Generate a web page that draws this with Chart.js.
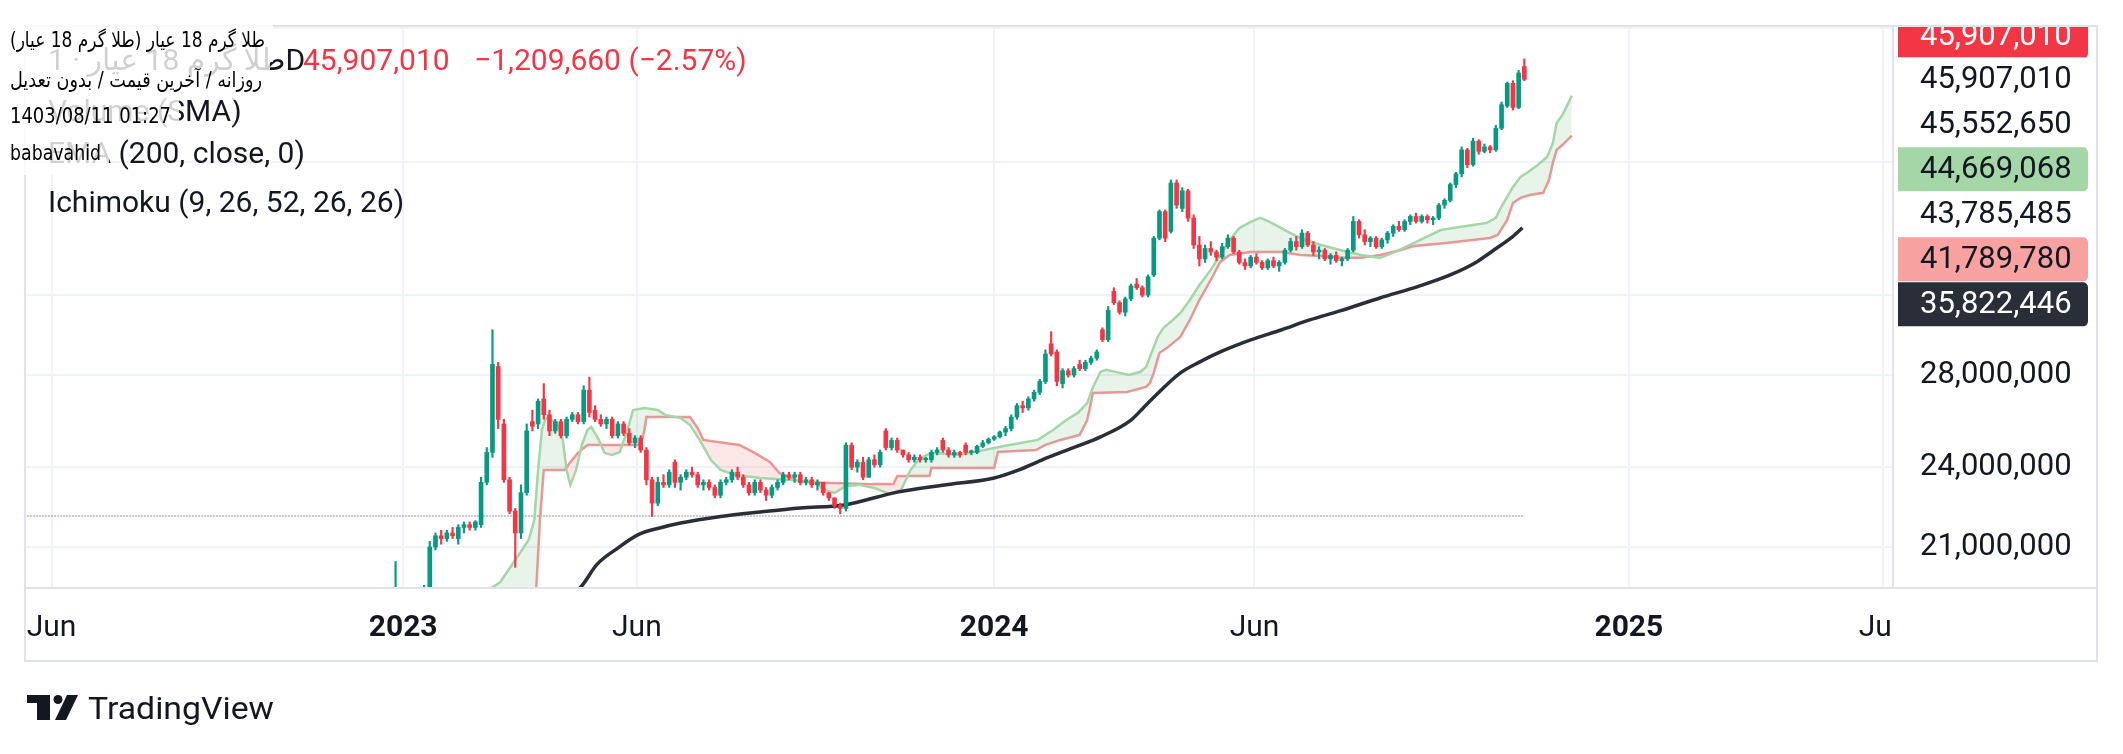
<!DOCTYPE html>
<html>
<head>
<meta charset="utf-8">
<script src="https://cdn.jsdelivr.net/npm/chart.js@4.4.1/dist/chart.umd.min.js"></script>
<style>
  html, body { margin: 0; padding: 0; background: #fff; }
</style>
</head>
<body>
<canvas id="myChart" width="2123" height="754"></canvas>
<script>
'use strict';

// time axis (bar index of each label)
const tickBars = [14, 199, 322, 510, 647, 844, 978];
const tickLabels = ['Jun', '2023', 'Jun', '2024', 'Jun', '2025', 'Jun'];
// price grid (millions)
const gridValues = [21, 24, 28, 32, 40, 50];

// daily candles, one every 3 bars: open, high, low, close (millions)
const firstCandleBar = 195;
const candleStep = 3;
const candles = [
  [19.4,20.5,19.3,19.5],[19.5,19.6,19.2,19.3],[19.3,19.5,19.1,19.4],[19.4,19.5,19.2,19.3],[19.3,19.6,19.2,19.5],
  [19.5,19.7,19.4,19.6],[19.6,21.2,19.5,21.0],[21.0,21.5,20.9,21.4],[21.4,21.6,21.1,21.3],[21.3,21.6,21.2,21.5],
  [21.5,21.7,21.3,21.4],[21.3,21.8,21.1,21.7],[21.7,21.9,21.5,21.8],[21.8,21.9,21.6,21.7],[21.7,21.95,21.6,21.9],
  [21.8,23.6,21.7,23.4],[23.4,24.8,23.3,24.6],[24.6,30.2,24.4,28.5],[28.4,28.6,25.6,26.0],[25.8,26.0,23.4,23.5],
  [23.5,23.6,22.2,22.3],[22.3,22.4,20.3,21.5],[21.5,23.3,21.3,23.0],[23.0,25.8,22.9,25.5],[25.9,26.4,25.5,25.7],
  [25.8,26.9,25.6,26.8],[26.9,27.6,26.0,26.2],[26.2,26.4,25.3,25.5],[25.5,26.0,25.4,25.9],[25.9,26.0,25.2,25.3],
  [25.3,26.1,25.2,26.0],[26.0,26.3,25.9,26.2],[26.2,26.3,25.8,25.9],[25.9,27.5,25.8,27.3],[27.3,27.9,26.1,26.3],
  [26.4,26.6,25.9,26.0],[26.0,26.2,25.7,25.8],[25.8,26.1,25.6,26.0],[26.0,26.1,25.2,25.3],[25.3,25.9,25.2,25.8],
  [25.8,25.9,25.3,25.4],[25.4,25.6,24.9,25.0],[25.0,25.3,24.8,25.2],[25.2,25.3,24.6,24.7],[24.7,24.8,23.3,23.5],
  [23.5,23.6,22.1,22.6],[22.6,23.6,22.5,23.4],[23.4,23.7,23.2,23.3],[23.3,23.9,23.2,23.8],[24.2,24.3,23.2,23.4],
  [23.4,23.7,23.1,23.6],[23.6,23.9,23.5,23.8],[23.8,24.0,23.6,23.7],[23.7,23.8,23.2,23.3],[23.3,23.5,23.1,23.4],
  [23.4,23.5,23.1,23.2],[23.2,23.3,22.8,22.9],[22.9,23.5,22.8,23.4],[23.4,23.6,23.3,23.5],[23.5,23.9,23.4,23.8],
  [23.8,24.0,23.5,23.6],[23.6,23.7,23.2,23.3],[23.3,23.4,22.9,23.0],[23.0,23.5,22.9,23.4],[23.4,23.5,23.0,23.1],
  [23.1,23.2,22.7,22.9],[22.9,23.3,22.8,23.2],[23.2,23.5,23.1,23.4],[23.4,23.8,23.3,23.7],[23.7,23.8,23.5,23.6],
  [23.6,23.8,23.4,23.7],[23.7,23.8,23.3,23.4],[23.4,23.6,23.3,23.5],[23.5,23.6,23.2,23.3],[23.3,23.5,23.1,23.4],
  [23.4,23.4,22.9,23.0],[23.0,23.0,22.7,22.8],[22.8,22.8,22.4,22.5],[22.5,22.6,22.2,22.4],[22.4,25.0,22.3,24.9],
  [24.9,25.0,23.9,24.0],[24.0,24.3,23.8,24.2],[24.2,24.4,23.5,23.6],[23.6,24.4,23.6,24.3],[24.3,24.5,24.0,24.1],
  [24.1,24.7,24.0,24.6],[25.5,25.6,24.7,24.8],[24.8,25.2,24.7,25.1],[25.1,25.2,24.6,24.7],[24.7,24.7,24.4,24.5],
  [24.5,24.6,24.2,24.3],[24.3,24.5,24.2,24.4],[24.4,24.5,24.2,24.3],[24.3,24.4,24.2,24.35],[24.3,24.7,24.2,24.6],
  [24.6,24.8,24.5,24.7],[25.1,25.2,24.6,24.7],[24.7,24.8,24.4,24.5],[24.5,24.7,24.4,24.6],[24.6,24.65,24.4,24.5],
  [24.9,25.0,24.5,24.6],[24.6,24.7,24.5,24.65],[24.6,24.9,24.55,24.85],[24.85,25.1,24.8,25.0],[25.0,25.2,24.95,25.15],
  [25.15,25.3,25.1,25.25],[25.25,25.5,25.2,25.45],[25.45,25.7,25.3,25.6],[25.6,26.2,25.5,26.1],[26.1,26.7,26.0,26.6],
  [26.6,26.8,26.3,26.5],[26.5,27.0,26.4,26.9],[26.9,27.3,26.8,27.2],[27.2,27.8,27.1,27.7],[27.7,29.2,27.6,29.0],
  [29.5,30.1,28.9,29.0],[29.1,29.2,27.5,27.7],[27.6,28.3,27.4,28.2],[28.2,28.3,27.9,28.0],[28.0,28.4,27.9,28.3],
  [28.5,28.7,28.2,28.3],[28.3,28.7,28.2,28.6],[28.6,28.9,28.5,28.8],[28.8,29.2,28.7,29.1],[30.2,30.3,29.6,29.7],
  [29.7,31.4,29.6,31.2],[32.2,32.4,31.5,31.6],[31.6,31.7,31.0,31.1],[31.1,31.9,30.9,31.8],[31.8,32.6,31.7,32.5],
  [32.6,32.9,32.3,32.4],[32.4,32.5,31.9,32.0],[32.0,33.1,31.9,33.0],[33.1,35.3,33.0,35.2],[35.2,36.9,35.1,36.8],
  [36.8,36.9,35.0,35.2],[35.6,38.8,35.5,38.6],[38.6,38.8,37.0,37.2],[37.0,38.3,36.8,38.1],[38.1,38.2,36.2,36.4],
  [36.4,36.6,34.6,34.8],[34.8,35.3,33.6,34.0],[34.0,34.8,33.8,34.6],[34.6,35.0,34.2,34.4],[34.4,34.5,33.9,34.1],
  [34.1,34.9,34.0,34.7],[34.7,35.4,34.6,35.2],[35.2,35.3,34.3,34.4],[34.4,34.5,33.7,33.8],[33.8,34.0,33.4,33.6],
  [33.6,34.2,33.5,34.1],[34.1,34.3,33.7,33.8],[33.8,33.9,33.4,33.5],[33.5,34.0,33.4,33.9],[33.9,34.1,33.5,33.6],
  [33.6,33.9,33.3,33.8],[33.8,34.6,33.7,34.5],[34.5,35.2,34.4,35.0],[35.0,35.3,34.5,34.7],[34.7,35.7,34.6,35.5],
  [35.5,35.6,34.7,34.8],[34.8,35.0,34.2,34.4],[34.4,34.7,34.0,34.5],[34.5,34.6,33.9,34.0],[34.0,34.3,33.7,34.2],
  [34.2,34.4,33.8,33.9],[33.9,34.1,33.6,34.0],[34.0,34.6,33.9,34.5],[34.5,36.5,34.4,36.2],[36.2,36.3,35.2,35.4],
  [35.4,35.7,34.8,35.0],[35.0,35.3,34.7,35.2],[35.2,35.3,34.6,34.7],[34.7,35.2,34.6,35.1],[35.1,35.6,34.9,35.5],
  [35.5,36.0,35.3,35.9],[35.9,36.2,35.6,35.7],[35.7,36.3,35.6,36.2],[36.2,36.6,36.0,36.5],[36.5,36.7,36.1,36.2],
  [36.2,36.6,36.1,36.5],[36.5,36.6,36.1,36.3],[36.3,36.5,36.0,36.4],[36.4,37.3,36.3,37.2],[37.2,37.6,37.0,37.5],
  [37.5,38.6,37.4,38.5],[38.5,39.3,38.3,39.2],[39.2,41.0,39.0,40.8],[40.8,40.9,39.6,39.8],[39.8,41.6,39.7,41.4],
  [41.4,41.5,40.5,40.7],[40.7,41.2,40.6,41.0],[41.0,41.1,40.6,40.8],[40.8,42.5,40.7,42.3],[42.3,44.2,42.2,44.0],
  [43.9,45.7,43.8,45.6],[45.6,45.8,43.6,43.8],[43.8,46.6,43.7,46.4],[46.9,47.5,45.8,45.90701]
];

// EMA 200
const emaBars = [280,292,301,311,323,334,345,366,387,408,431,459,484,510,523,535,551,566,582,591,
  608,618,629,645,661,676,692,713,734,750,763,773,782,788];
const ema200 = [19.2,19.61,20.40,20.92,21.45,21.68,21.86,22.10,22.27,22.42,22.53,23.02,23.30,23.57,23.89,24.29,24.78,25.25,25.97,26.72,
  28.10,28.61,29.10,29.69,30.19,30.70,31.17,31.85,32.50,33.10,33.77,34.51,35.21,35.822446];

// Ichimoku leading span A
const spanABars = [236,244,250,258,265,268,270,272,274,277,280,283,285,287,290,293,296,298,302,305,
  309,313,317,320,326,333,337,345,350,355,361,366,374,387,403,416,421,426,432,439,
  447,455,461,466,471,477,492,510,518,533,541,548,554,559,562,566,569,576,581,587,
  590,592,596,599,604,608,613,618,624,629,634,639,645,650,655,663,671,682,692,703,
  713,721,731,745,755,769,774,776,780,783,787,791,796,801,804,806,809,814];
const spanA = [19.0,19.55,19.80,20.55,21.25,21.97,23.89,25.54,26.06,25.97,25.84,25.12,23.89,23.30,23.89,24.91,25.54,25.67,25.12,24.58,
  24.50,24.62,25.54,26.41,26.50,26.41,26.19,26.06,25.75,25.12,24.29,23.89,23.69,23.57,23.49,23.37,23.10,22.99,23.26,23.30,
  23.18,22.95,23.10,23.89,24.37,24.58,24.50,24.78,24.91,25.12,25.54,25.97,26.28,26.72,27.45,28.15,28.24,28.10,28.00,28.15,
  28.38,28.86,29.84,30.29,30.70,31.06,31.74,32.55,33.38,34.22,35.09,35.80,36.17,36.41,36.17,35.68,35.21,34.80,34.51,34.22,
  34.06,34.40,34.92,35.68,35.86,36.10,36.41,36.90,37.71,38.35,39.00,39.32,39.78,40.32,41.27,42.68,43.25,44.669068];

// Ichimoku leading span B
const spanBBars = [236,269,271,273,284,287,291,296,324,326,327,350,354,357,376,384,392,397,408,446,
  457,459,476,477,510,512,532,537,545,555,559,562,580,590,592,594,597,601,608,613,
  618,624,629,634,645,661,671,682,692,703,713,724,731,748,771,775,780,783,787,792,
  799,802,804,806,809,814];
const spanB = [18.5,19.55,21.97,23.89,23.89,24.21,24.58,24.91,24.91,25.54,26.10,26.10,25.62,25.12,24.91,24.58,24.21,23.77,23.41,23.33,
  23.33,23.65,23.65,23.97,23.97,24.62,24.70,24.91,25.12,25.33,25.97,27.17,27.22,27.45,27.63,28.10,29.05,29.30,29.84,30.70,
  31.74,32.82,33.83,34.22,34.40,34.40,34.22,34.17,34.06,34.06,34.22,34.51,34.74,34.92,35.21,35.39,36.29,37.33,37.65,37.84,
  37.97,38.80,39.92,40.79,41.13,41.79];

// flat volume trace
const volumeBars = [1, 789];
const volumeLine = [22.12, 22.12];

// last values shown on the price scale
const axisValues = [45907010, 45907010, 45552650, 44669068, 43785485, 41789780, 35822446];

const UP = '#089981';
const DOWN = '#f23645';
const TEXT = '#131722';
const GRID = '#f0f3fa';
const BORDER = '#e0e3eb';
const axisBg = ['#f23645', null, null, '#a5d6a7', null, '#f7a1a1', '#2a2e39'];
const axisFg = ['#ffffff', TEXT, TEXT, TEXT, TEXT, TEXT, '#ffffff'];

const pts = (bars, vals) => bars.map((b, i) => ({ x: b, y: vals[i] }));
const candleX = candles.map((c, i) => firstCandleBar + i * candleStep);
const bodyData = candles.map((c, i) => ({ x: candleX[i], y: [c[0], c[3]] }));
const wickData = candles.map((c, i) => ({ x: candleX[i], y: [c[2], c[1]] }));
const candleColor = ctx => {
    const c = candles[ctx.dataIndex];
    return c && c[3] < c[0] ? DOWN : UP;
};
const fmt = v => Math.round(v).toLocaleString('en-US');

function fitText(ctx, text, x, y, width, rtl) {
    ctx.save();
    ctx.direction = rtl ? 'rtl' : 'ltr';
    ctx.textAlign = 'left';
    const w = ctx.measureText(text).width;
    ctx.translate(x, y);
    ctx.scale(width / w, 1);
    ctx.fillText(text, 0, 0);
    ctx.restore();
}

const decor = {
    id: 'decor',
    afterDraw(chart) {
        const ctx = chart.ctx;
        const a = chart.chartArea;
        const yS = chart.scales.y;
        const xS = chart.scales.x;
        ctx.save();

        // cut the last time label at the price scale
        ctx.fillStyle = '#ffffff';
        ctx.fillRect(a.right, a.bottom + 1, chart.width - a.right, xS.height);

        // value labels on the price scale, stacked like TradingView
        const ys = [];
        ys[1] = yS.getPixelForValue(axisValues[1] / 1e6);
        ys[0] = ys[1] - 43;
        for (let k = 2; k < axisValues.length; k++) {
            ys[k] = Math.max(yS.getPixelForValue(axisValues[k] / 1e6), ys[k - 1] + 45);
        }
        // scale labels under the stack are hidden
        ctx.fillStyle = '#ffffff';
        ctx.fillRect(a.right + 1, a.top, yS.right - a.right - 1, ys[ys.length - 1] + 22 - a.top);

        // frame
        ctx.strokeStyle = BORDER;
        ctx.lineWidth = 2;
        ctx.strokeRect(a.left, a.top, yS.right - a.left, xS.bottom - a.top);
        ctx.beginPath();
        ctx.moveTo(a.left, a.bottom); ctx.lineTo(yS.right, a.bottom);
        ctx.moveTo(a.right, a.top); ctx.lineTo(a.right, a.bottom);
        ctx.stroke();

        ctx.save();
        ctx.beginPath();
        ctx.rect(a.right + 1, a.top + 1, yS.right - a.right - 2, a.bottom - a.top - 2);
        ctx.clip();
        ctx.font = '31px Roboto, sans-serif';
        ctx.textBaseline = 'middle';
        ctx.textAlign = 'left';
        axisValues.forEach((v, k) => {
            ctx.fillStyle = axisBg[k] || '#ffffff';
            ctx.beginPath();
            ctx.roundRect(a.right + 5, ys[k] - 22, 190, 44, [0, 5, 5, 0]);
            ctx.fill();
            ctx.fillStyle = axisFg[k];
            ctx.fillText(fmt(v), a.right + 27, ys[k] + 1);
        });
        ctx.restore();

        // legend
        ctx.textBaseline = 'middle';
        ctx.textAlign = 'left';
        ctx.font = '30px Roboto, "DejaVu Sans", sans-serif';
        ctx.fillStyle = TEXT;
        ctx.fillText('طلا گرم 18 عیار · 1D', 48, 62);
        ctx.fillText('Volume (SMA)', 48, 113);
        ctx.fillText('EMA (200, close, 0)', 48, 155);
        ctx.fillText('Ichimoku (9, 26, 52, 26, 26)', 48, 204);
        ctx.fillStyle = DOWN;
        ctx.fillText('45,907,010', 303, 62);
        ctx.fillText('−1,209,660 (−2.57%)', 474, 62);

        // watermark text block
        const rows = [
            { text: 'طلا گرم 18 عیار (طلا گرم 18 عیار)', y: 42, w: 255, rtl: true },
            { text: 'روزانه / آخرین قیمت / بدون تعدیل', y: 82, w: 252, rtl: true },
            { text: '1403/08/11 01:27', y: 118, w: 161, rtl: false },
            { text: 'babavahid', y: 155, w: 91, rtl: false }
        ];
        ctx.fillStyle = 'rgba(255,255,255,0.8)';
        rows.forEach((r, i) => {
            const top = i === 0 ? 10 : (rows[i - 1].y + r.y) / 2;
            const bottom = i === rows.length - 1 ? r.y + 20 : (r.y + rows[i + 1].y) / 2;
            ctx.fillRect(0, top, 10 + r.w + 8, bottom - top);
        });
        ctx.fillStyle = '#000000';
        ctx.font = '21px "DejaVu Sans", sans-serif';
        rows.forEach(r => fitText(ctx, r.text, 10, r.y, r.w, r.rtl));

        // TradingView logo
        ctx.fillStyle = TEXT;
        ctx.fillRect(27, 695, 23, 8);
        ctx.fillRect(37, 695, 13, 25);
        ctx.beginPath();
        ctx.arc(58, 699.5, 4.5, 0, Math.PI * 2);
        ctx.fill();
        ctx.beginPath();
        ctx.moveTo(67, 695); ctx.lineTo(78, 695); ctx.lineTo(66, 720); ctx.lineTo(55, 720);
        ctx.closePath();
        ctx.fill();
        ctx.font = '32px Roboto, sans-serif';
        ctx.textBaseline = 'alphabetic';
        fitText(ctx, 'TradingView', 88, 719, 186, false);

        ctx.restore();
    }
};

const lowestLabel = Math.min(...axisValues) / 1e6;

new Chart(document.getElementById('myChart'), {
    type: 'bar',
    data: {
        datasets: [
            { type: 'bar', label: 'body', data: bodyData, backgroundColor: candleColor,
              barThickness: 4, grouped: false, borderWidth: 0, minBarLength: 1.5, order: 0 },
            { type: 'bar', label: 'wick', data: wickData, backgroundColor: candleColor,
              barThickness: 1.5, grouped: false, borderWidth: 0, order: 1 },
            { type: 'line', label: 'EMA', data: pts(emaBars, ema200), borderColor: '#2a2e39',
              borderWidth: 3.5, pointRadius: 0, cubicInterpolationMode: 'monotone', order: 2 },
            { type: 'line', label: 'Lead 1', data: pts(spanABars, spanA), borderColor: '#a5d6a7',
              borderWidth: 2.5, pointRadius: 0, order: 3,
              fill: { target: '+1', above: 'rgba(67,160,71,0.12)', below: 'rgba(244,67,54,0.12)' } },
            { type: 'line', label: 'Lead 2', data: pts(spanBBars, spanB), borderColor: '#ef9a9a',
              borderWidth: 2.5, pointRadius: 0, fill: false, order: 4 },
            { type: 'line', label: 'vol up', data: pts(volumeBars, volumeLine), borderColor: 'rgba(8,153,129,0.5)',
              borderWidth: 1.5, borderDash: [2, 4], pointRadius: 0, order: 5 },
            { type: 'line', label: 'vol down', data: pts(volumeBars, volumeLine), borderColor: 'rgba(242,54,69,0.5)',
              borderWidth: 1.5, borderDash: [2, 4], borderDashOffset: 3, pointRadius: 0, order: 6 }
        ]
    },
    options: {
        responsive: false,
        animation: false,
        devicePixelRatio: 1,
        events: [],
        layout: { padding: { left: 25, top: 26, right: 26, bottom: 93 } },
        plugins: { legend: { display: false }, tooltip: { enabled: false } },
        scales: {
            x: {
                type: 'linear', min: 0, max: 983, offset: false,
                afterFit: s => { s.height = 73; },
                afterBuildTicks: s => { s.ticks = tickBars.map(v => ({ value: v })); },
                grid: { color: GRID, lineWidth: 2, drawTicks: false, offset: false },
                border: { display: false },
                ticks: {
                    autoSkip: false, maxRotation: 0, padding: 22, color: TEXT,
                    font: c => ({ family: 'Roboto', size: 30,
                        weight: /^\d{4}$/.test(tickLabels[c.index]) ? 'bold' : 'normal' }),
                    callback: (v, i) => tickLabels[i]
                }
            },
            y: {
                type: 'logarithmic', position: 'right', min: 19.61, max: 50.19,
                afterFit: s => { s.width = 204; },
                afterBuildTicks: s => { s.ticks = gridValues.map(v => ({ value: v })); },
                grid: { color: GRID, lineWidth: 2, drawTicks: true, tickLength: 27,
                        tickColor: 'rgba(0,0,0,0)' },
                border: { display: false },
                ticks: {
                    padding: 0, color: TEXT, font: { family: 'Roboto', size: 31 },
                    callback: v => v > lowestLabel ? '' : fmt(v * 1e6)
                }
            }
        }
    },
    plugins: [decor]
});
</script>
</body>
</html>
